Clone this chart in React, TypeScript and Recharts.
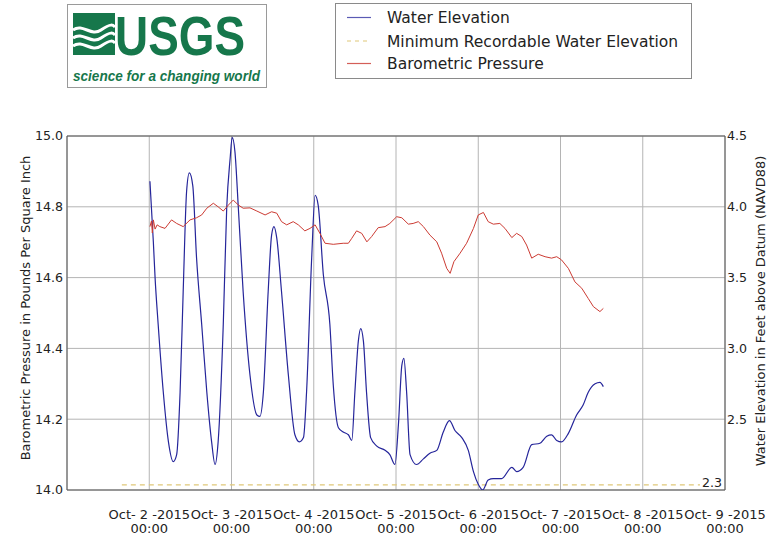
import React from 'react';
import { LineChart, Line, XAxis, YAxis, CartesianGrid, ReferenceArea, Legend } from 'recharts';

const START = Date.UTC(2015, 9, 1);
const HOUR = 3600000;
const END = START + 8 * 24 * HOUR;

const dayTicks = [2, 3, 4, 5, 6, 7, 8, 9];
const pressureTicks = [14.0, 14.2, 14.4, 14.6, 14.8, 15.0];
const elevationTicks = [2.5, 3.0, 3.5, 4.0, 4.5];

// hours since Oct 1 2015 00:00
const waterHours = [
  24.2, 25.2, 25.7, 26.6, 28.1, 29.6, 31.0, 32.0, 33.0, 33.9,
  34.9, 35.7, 36.7, 37.8, 39.3, 40.8, 42.2, 43.2, 44.1, 45.6,
  46.6, 47.6, 48.2, 49.0, 50.0, 51.4, 53.4, 55.4, 56.3, 57.3,
  58.7, 59.7, 60.4, 61.2, 62.6, 64.6, 66.5, 67.8, 69.0, 69.9,
  71.4, 72.4, 73.3, 74.8, 76.7, 77.7, 79.2, 80.6, 82.1, 83.1,
  84.0, 85.0, 85.7, 86.5, 87.4, 88.6, 90.4, 92.8, 94.2, 95.7,
  96.7, 97.7, 98.3, 99.1, 100.1, 102.0, 104.0, 105.9, 107.9, 109.8,
  111.6, 113.2, 115.2, 117.1, 118.6, 120.0, 121.3, 122.9, 124.4, 126.8,
  129.8, 131.2, 133.1, 135.6, 138.0, 140.0, 141.4, 142.9, 144.3, 146.3,
  148.7, 150.6, 152.1, 154.1, 155.5, 156.5,
];
const waterValues = [
  4.18, 3.75, 3.50, 3.17, 2.69, 2.34, 2.20, 2.25, 2.69, 3.40,
  4.11, 4.24, 4.15, 3.64, 3.17, 2.69, 2.34, 2.18, 2.34, 3.17,
  3.99, 4.34, 4.49, 4.39, 3.99, 3.40, 2.81, 2.53, 2.52, 2.69,
  3.40, 3.80, 3.86, 3.78, 3.40, 2.81, 2.39, 2.34, 2.37, 2.69,
  3.64, 4.08, 4.01, 3.52, 3.17, 2.74, 2.44, 2.41, 2.39, 2.35,
  2.69, 3.05, 3.14, 3.05, 2.69, 2.37, 2.31, 2.28, 2.25, 2.18,
  2.46, 2.88, 2.93, 2.69, 2.25, 2.18, 2.22, 2.26, 2.28, 2.41,
  2.49, 2.42, 2.37, 2.28, 2.13, 2.04, 2.00, 2.07, 2.08, 2.08,
  2.16, 2.13, 2.16, 2.32, 2.33, 2.38, 2.39, 2.35, 2.34, 2.40,
  2.53, 2.60, 2.69, 2.75, 2.76, 2.73,
];

const pressureHours = [
  24.2, 24.66, 24.9, 25.2, 25.7, 26.3, 27.1, 28.6, 30.5, 32.0,
  33.9, 35.9, 37.8, 39.3, 40.8, 42.7, 44.1, 45.6, 47.1, 48.5,
  50.0, 51.4, 53.4, 55.4, 57.8, 59.7, 61.2, 62.6, 64.1, 66.0,
  67.5, 69.4, 70.9, 72.4, 73.8, 75.3, 77.7, 80.6, 82.1, 83.1,
  84.5, 86.0, 87.5, 88.9, 90.8, 92.8, 94.2, 96.2, 97.7, 99.6,
  101.0, 102.5, 104.0, 105.9, 107.9, 109.3, 110.8, 111.8, 112.9, 114.7,
  116.6, 118.6, 120.0, 121.5, 122.9, 124.4, 126.3, 127.8, 129.8, 131.2,
  132.7, 134.1, 135.6, 137.5, 139.5, 141.4, 142.9, 144.3, 146.3, 148.2,
  150.2, 152.1, 153.6, 155.5, 156.5,
];
const pressureValues = [
  14.744, 14.760, 14.726, 14.763, 14.737, 14.749, 14.744, 14.739, 14.763, 14.753,
  14.744, 14.763, 14.769, 14.777, 14.796, 14.810, 14.800, 14.788, 14.805, 14.819,
  14.805, 14.796, 14.797, 14.788, 14.777, 14.786, 14.782, 14.758, 14.749, 14.758,
  14.749, 14.732, 14.739, 14.749, 14.725, 14.697, 14.694, 14.697, 14.697, 14.711,
  14.732, 14.725, 14.701, 14.716, 14.741, 14.744, 14.753, 14.772, 14.769, 14.751,
  14.753, 14.758, 14.744, 14.720, 14.701, 14.669, 14.626, 14.612, 14.645, 14.669,
  14.697, 14.739, 14.777, 14.784, 14.758, 14.751, 14.753, 14.739, 14.713, 14.725,
  14.716, 14.692, 14.655, 14.666, 14.659, 14.655, 14.659, 14.650, 14.626, 14.588,
  14.570, 14.541, 14.518, 14.504, 14.513,
];

const minElevationHours = [16, 184.7];
const minElevationValues = [2.3, 2.3];

const seriesNames = ['Water Elevation', 'Minimum Recordable Water Elevation', 'Barometric Pressure'];
const leftTitle = 'Barometric Pressure in Pounds Per Square Inch';
const rightTitle = 'Water Elevation in Feet above Datum (NAVD88)';

const BLUE = '#25259a';
const RED = '#cc3b33';
const YELLOW = '#dfc878';
const FONT = "'DejaVu Sans', sans-serif";
const GREEN = '#16774b';

const toData = (hours: number[], values: number[]) =>
  hours.map((h, i) => ({ t: START + h * HOUR, v: values[i] }));

const waterData = toData(waterHours, waterValues);
const pressureData = toData(pressureHours, pressureValues);
const minData = toData(minElevationHours, minElevationValues);
const xTicks = dayTicks.map((d) => Date.UTC(2015, 9, d));

const DayTick = (props: any) => {
  const { x, y, payload } = props;
  const day = new Date(payload.value).getUTCDate();
  return (
    <g>
      <text x={x} y={y + 29} textAnchor="middle" fontFamily={FONT} fontSize={13} fill="#222">
        {`Oct- ${day} -2015`}
      </text>
      <text x={x} y={y + 42.5} textAnchor="middle" fontFamily={FONT} fontSize={13} fill="#222">
        00:00
      </text>
    </g>
  );
};

const AxisTitle = (props: any) => {
  const { viewBox, text, dx, dy } = props;
  const vb = viewBox || { x: 0, y: 0, width: 0, height: 0 };
  const cx = vb.x + dx;
  const cy = vb.y + vb.height / 2 + dy;
  return (
    <text
      x={cx}
      y={cy}
      transform={`rotate(-90, ${cx}, ${cy})`}
      textAnchor="middle"
      dominantBaseline="central"
      fontFamily={FONT}
      fontSize={13}
      fill="#222"
    >
      {text}
    </text>
  );
};

const MinLabel = (props: any) => {
  const { x, y, index } = props;
  if (index !== minData.length - 1) return null;
  return (
    <text x={x + 2} y={y + 2} fontFamily={FONT} fontSize={12.6} fill="#222">
      {minElevationValues[minElevationValues.length - 1].toFixed(1)}
    </text>
  );
};

const LegendBox = () => {
  const rows = [
    { name: seriesNames[0], color: '#5a5ab4', dash: undefined as string | undefined, cy: 14.5 },
    { name: seriesNames[1], color: YELLOW, dash: '4 4', cy: 38 },
    { name: seriesNames[2], color: '#d45e58', dash: undefined, cy: 60.5 },
  ];
  return (
    <svg width={357} height={76} style={{ display: 'block' }}>
      <rect x={0.5} y={0.5} width={356} height={75} fill="#fff" stroke="#8a8a8a" />
      {rows.map((r) => (
        <g key={r.name}>
          <line x1={12} x2={36} y1={r.cy} y2={r.cy} stroke={r.color} strokeWidth={1.2} strokeDasharray={r.dash} />
          <text x={52} y={r.cy + 5.6} fontFamily={FONT} fontSize={15.5} fill="#222">
            {r.name}
          </text>
        </g>
      ))}
    </svg>
  );
};

const Logo = () => (
  <svg width={260} height={90} style={{ position: 'absolute', left: 67, top: 3 }}>
    <rect x={0.5} y={1.5} width={199} height={83} fill="#fff" stroke="#9a9a9a" />
    <g transform="translate(6,10)">
      <rect x={0} y={0} width={42} height={42} fill={GREEN} />
      <path d="M0 17 C 10 10, 18 24, 28 17 S 40 12, 42 14" stroke="#fff" strokeWidth={3} fill="none" />
      <path d="M0 25 C 10 18, 18 32, 28 25 S 40 20, 42 22" stroke="#fff" strokeWidth={3} fill="none" />
      <path d="M0 33 C 10 26, 18 40, 28 33 S 40 28, 42 30" stroke="#fff" strokeWidth={3} fill="none" />
    </g>
    <text
      x={48}
      y={52}
      fontFamily="'Liberation Sans Narrow', 'Liberation Sans', sans-serif"
      fontWeight="bold"
      fontSize={56}
      fill={GREEN}
      textLength={130}
      lengthAdjust="spacingAndGlyphs"
    >
      USGS
    </text>
    <text
      x={6}
      y={78}
      fontFamily="'Liberation Sans Narrow', 'Liberation Sans', sans-serif"
      fontWeight="bold"
      fontStyle="italic"
      fontSize={15.5}
      fill={GREEN}
      textLength={187}
      lengthAdjust="spacingAndGlyphs"
    >
      science for a changing world
    </text>
  </svg>
);

export default function App() {
  return (
    <div style={{ position: 'absolute', left: 0, top: 0, width: 778, height: 534, background: '#fff' }}>
      <LineChart width={778} height={534} margin={{ top: 136, right: 0, bottom: 0, left: 0 }}>
        <CartesianGrid stroke="#b4b4b4" strokeWidth={1} yAxisId="left" />
        <XAxis
          dataKey="t"
          type="number"
          domain={[START, END]}
          ticks={xTicks}
          allowDataOverflow
          height={44}
          axisLine={false}
          tickLine={false}
          tickSize={0}
          tickMargin={0}
          interval={0}
          tick={<DayTick />}
        />
        <YAxis
          yAxisId="left"
          orientation="left"
          domain={[14, 15]}
          ticks={pressureTicks}
          allowDataOverflow
          width={67}
          axisLine={false}
          tickLine={false}
          tickSize={0}
          tickMargin={4}
          tickFormatter={(v: number) => v.toFixed(1)}
          tick={{ fontFamily: FONT, fontSize: 12.6, fill: '#222' }}
          label={<AxisTitle text={leftTitle} dx={25} dy={-5} />}
        />
        <YAxis
          yAxisId="right"
          orientation="right"
          domain={[2.0, 4.5]}
          ticks={elevationTicks}
          allowDataOverflow
          width={53}
          axisLine={false}
          tickLine={false}
          tickSize={0}
          tickMargin={2}
          tickFormatter={(v: number) => v.toFixed(1)}
          tick={{ fontFamily: FONT, fontSize: 12.6, fill: '#222' }}
          label={<AxisTitle text={rightTitle} dx={35} dy={-2} />}
        />
        <YAxis yAxisId="min" hide domain={[2.268, 4.5]} allowDataOverflow />
        <ReferenceArea
          yAxisId="left"
          x1={START}
          x2={END}
          y1={14}
          y2={15}
          fill="none"
          fillOpacity={0}
          stroke="#555"
          strokeWidth={1}
        />
        <Line
          yAxisId="min"
          data={minData}
          dataKey="v"
          name={seriesNames[1]}
          stroke={YELLOW}
          strokeWidth={1.2}
          strokeDasharray="5 4"
          dot={false}
          activeDot={false}
          isAnimationActive={false}
          label={<MinLabel />}
        />
        <Line
          yAxisId="right"
          type="monotone"
          data={waterData}
          dataKey="v"
          name={seriesNames[0]}
          stroke={BLUE}
          strokeWidth={1.2}
          dot={false}
          activeDot={false}
          isAnimationActive={false}
        />
        <Line
          yAxisId="left"
          data={pressureData}
          dataKey="v"
          name={seriesNames[2]}
          stroke={RED}
          strokeWidth={1}
          dot={false}
          activeDot={false}
          isAnimationActive={false}
        />
        <Legend
          layout="vertical"
          align="center"
          verticalAlign="middle"
          content={<LegendBox />}
          wrapperStyle={{ position: 'absolute', left: 335, top: 3, width: 357, height: 76 }}
        />
      </LineChart>
      <Logo />
    </div>
  );
}
